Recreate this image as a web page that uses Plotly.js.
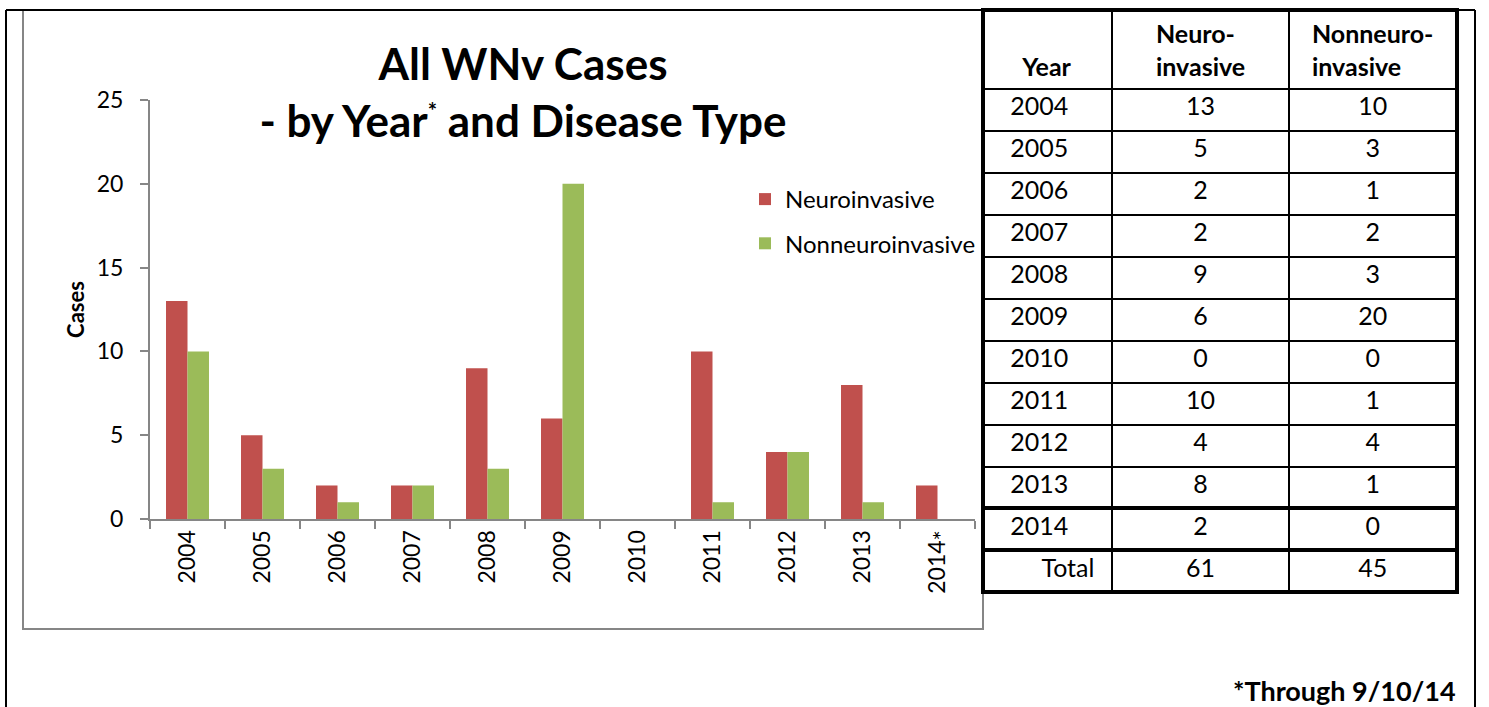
<!DOCTYPE html>
<html><head><meta charset="utf-8">
<script src="https://cdn.plot.ly/plotly-3.0.1.min.js"></script>
<style>html,body{margin:0;padding:0;background:#fff;}#chart{width:1489px;height:707px;}</style>
</head><body><div id="chart"></div>
<script>
// ---- data ----
const years = ['2004','2005','2006','2007','2008','2009','2010','2011','2012','2013','2014'];
const yearTickLabels = ['2004','2005','2006','2007','2008','2009','2010','2011','2012','2013','2014<sub><span style="font-size:24px">*</span></sub>'];
const neuroinvasive = [13,5,2,2,9,6,0,10,4,8,2];
const nonneuroinvasive = [10,3,1,2,3,20,0,1,4,1,0];
const totalLabel = 'Total';
const neuroTotal = 61;
const nonneuroTotal = 45;
const tableHeaders = ['\u00a0<br>Year','Neuro-<br>invasive','Nonneuro-<br>invasive'];
const seriesNames = ['Neuroinvasive','Nonneuroinvasive'];

// ---- layout helpers ----
const W = 1489, H = 707;
const px = x => x / W;
const py = y => (H - y) / H;
const FONT = 'Lato, "Open Sans", sans-serif';
const RED = '#C0504D', GREEN = '#9BBB59', AX = '#868686';
const NB = '\u00a0';

const tblTop = 10, hdrH = 78, rowH = 42, tblL = 983, tblR = 1457;
const nRows = years.length + 1;
const tblBottom = tblTop + hdrH + rowH * nRows;

const traces = [
  {type:'bar', x: years, y: neuroinvasive, name: seriesNames[0], legendgroup:'a',
   marker:{color: RED}, hoverinfo:'x+y'},
  {type:'bar', x: years, y: nonneuroinvasive, name: seriesNames[1], legendgroup:'b',
   marker:{color: GREEN}, hoverinfo:'x+y'},
  {type:'table',
   domain:{x:[px(tblL), px(tblR)], y:[py(tblBottom), py(tblTop)]},
   columnwidth:[129,178,167],
   header:{values: tableHeaders, align:['center','center','center'],
     height: hdrH, fill:{color:'rgba(0,0,0,0)'}, line:{color:'#000', width:2},
     font:{family: FONT, size: 25, color:'#000', weight: 700}},
   cells:{values:[
       years.map(y => NB.repeat(3) + y).concat([NB.repeat(8) + totalLabel]),
       neuroinvasive.concat([neuroTotal]),
       nonneuroinvasive.concat([nonneuroTotal])],
     align:['left','center','center'], height: rowH,
     fill:{color:'rgba(0,0,0,0)'}, line:{color:'#000', width:2},
     font:{family: FONT, size: 25, color:'#000'}}
  }
];

const shapes = [
  // chart border (gray)
  {type:'rect', xref:'paper', yref:'paper', x0:px(23), x1:px(983), y0:py(629), y1:py(10),
   line:{color:AX, width:2}, layer:'below'},
  // outer frame (black)
  {type:'line', xref:'paper', yref:'paper', x0:px(6), x1:px(6), y0:py(10), y1:0, line:{color:'#000', width:2}},
  {type:'line', xref:'paper', yref:'paper', x0:px(6), x1:px(1475), y0:py(10), y1:py(10), line:{color:'#000', width:2}},
  {type:'line', xref:'paper', yref:'paper', x0:px(1475), x1:px(1475), y0:py(10), y1:0, line:{color:'#000', width:2}},
  // table thick border
  {type:'rect', xref:'paper', yref:'paper', x0:px(tblL), x1:px(tblR), y0:py(tblBottom), y1:py(tblTop),
   line:{color:'#000', width:4}},
  {type:'line', xref:'paper', yref:'paper', x0:px(tblL), x1:px(tblR),
   y0:py(tblTop + hdrH + rowH*10), y1:py(tblTop + hdrH + rowH*10), line:{color:'#000', width:4}},
  {type:'line', xref:'paper', yref:'paper', x0:px(tblL), x1:px(tblR),
   y0:py(tblTop + hdrH + rowH*11), y1:py(tblTop + hdrH + rowH*11), line:{color:'#000', width:4}}
];

const layout = {
  width: W, height: H,
  margin:{l:0, r:0, t:0, b:0},
  paper_bgcolor:'#fff', plot_bgcolor:'#fff',
  font:{family: FONT, color:'#000'},
  barmode:'group', bargap:0.427, bargroupgap:0,
  title:{text:'All WNv Cases<br>- by Year<sup><span style="font-size:22px">*</span></sup> and Disease Type',
    font:{family: FONT, size: 44, color:'#000', weight: 700},
    x: px(523), xanchor:'center', xref:'paper', y: py(80), yanchor:'top', yref:'paper'},
  xaxis:{domain:[px(150), px(975)], type:'category',
    tickvals: years, ticktext: yearTickLabels, tickangle:-90,
    tickfont:{family: FONT, size: 23, color:'#000'},
    showline:true, linecolor:AX, linewidth:2,
    ticks:'outside', tickson:'boundaries', ticklen:8, tickcolor:AX, tickwidth:2,
    showgrid:false, zeroline:false, fixedrange:true},
  yaxis:{domain:[py(519), py(100)], range:[0,25], dtick:5,
    tickfont:{family: FONT, size: 23, color:'#000'},
    showline:true, linecolor:AX, linewidth:2,
    ticks:'outside', ticklen:8, tickcolor:AX, tickwidth:2, ticklabelstandoff: 12,
    showgrid:false, zeroline:false, fixedrange:true,
    title:{text:'Cases', font:{family: FONT, size: 22, color:'#000', weight: 700}, standoff: 6}},
  showlegend:true,
  legend:{x: px(745), y: py(177), xanchor:'left', yanchor:'top', bgcolor:'rgba(0,0,0,0)',
    font:{family: FONT, size: 24, color:'#000'}, tracegroupgap: 10, traceorder:'grouped'},
  shapes: shapes,
  annotations:[
    {text:'<b>*Through 9/10/14</b>', xref:'paper', yref:'paper', x: px(1458), y: py(690),
     xanchor:'right', yanchor:'middle', showarrow:false,
     font:{family: FONT, size: 27, color:'#000'}}
  ]
};

Plotly.newPlot('chart', traces, layout, {displayModeBar:false, staticPlot:true});
</script>
</body></html>
